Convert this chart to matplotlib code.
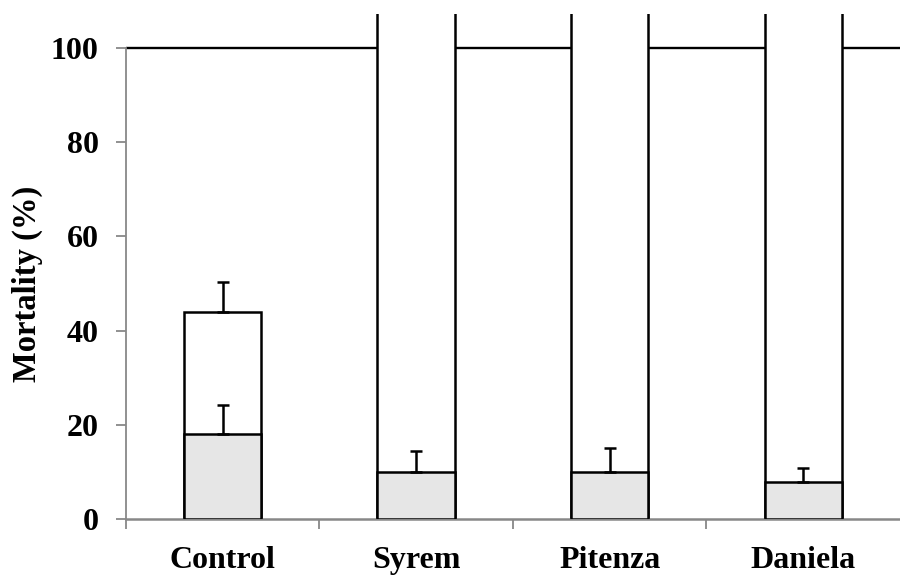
import numpy as np
import matplotlib.pyplot as plt

plt.rcParams['font.family'] = ['Liberation Serif', 'DejaVu Serif']
plt.rcParams['font.weight'] = 'bold'

cultivars = ['Control', 'Syrem', 'Pitenza', 'Daniela']
lower = [18, 10, 10, 8]          # grey part
lower_err = [6.2, 4.4, 5.2, 2.9]
upper = [44, 120, 120, 120]      # white bar totals (clipped above the axis)
upper_err = [6.4, 0, 0, 0]

fig = plt.figure(figsize=(9, 5.83), dpi=100)
ax = fig.add_axes([0.1397, 0.1093, 0.8603, 0.867])

x = np.arange(len(cultivars))
w = 0.4

ax.axhline(100, color='black', lw=1.7, zorder=1)

ax.bar(x, upper, width=w, color='white', edgecolor='black', lw=1.8, zorder=2)
ax.bar(x, lower, width=w, color='#e6e6e6', edgecolor='black', lw=1.8, zorder=3)

ax.errorbar(x[:1], upper[:1], yerr=[[0], upper_err[:1]], fmt='none',
            ecolor='black', elinewidth=1.8, capsize=4.5, capthick=1.8, zorder=4)
ax.errorbar(x, lower, yerr=[np.zeros(len(x)), lower_err], fmt='none',
            ecolor='black', elinewidth=1.8, capsize=4.5, capthick=1.8, zorder=4)

ax.set_xlim(-0.5, 3.5)
ax.set_ylim(0, 107.2)

for s in ['top', 'right']:
    ax.spines[s].set_visible(False)
ax.spines['left'].set_bounds(0, 100)
ax.spines['left'].set_color('#888888')
ax.spines['bottom'].set_color('#888888')
ax.spines['left'].set_linewidth(1.3)
ax.spines['bottom'].set_linewidth(1.8)

ax.set_yticks([0, 20, 40, 60, 80, 100])
ax.tick_params(axis='y', direction='out', length=7.5, width=1.3, color='#888888',
               labelsize=23, pad=12)
ax.set_xticks(x)
ax.set_xticklabels(cultivars)
ax.set_xticks(np.arange(-0.5, 3.0, 1.0), minor=True)
ax.tick_params(axis='x', which='major', length=0, labelsize=23, pad=19)
ax.tick_params(axis='x', which='minor', direction='out', length=7.5, width=1.3,
               color='#888888')
for lbl in ax.get_yticklabels() + ax.get_xticklabels():
    lbl.set_fontweight('bold')

ax.set_ylabel('Mortality (%)', fontsize=23.5, fontweight='bold')
ax.yaxis.set_label_coords(-0.107, 50 / 107.2)

plt.savefig('out.png', dpi=100)
